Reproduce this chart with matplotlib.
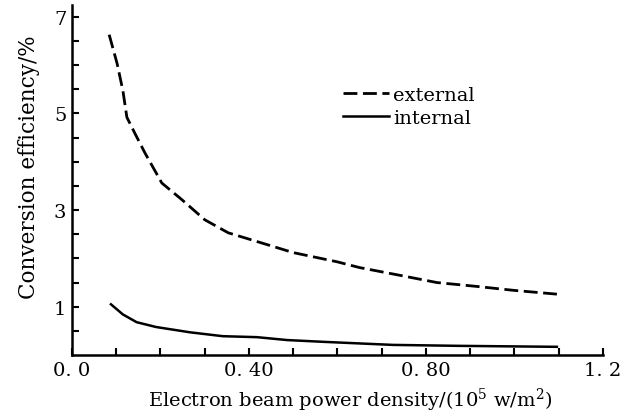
import numpy as np
import matplotlib
matplotlib.use("Agg")
import matplotlib.pyplot as plt

# values
ext_x = [0.084, 0.102, 0.115, 0.124, 0.142, 0.165, 0.203, 0.249, 0.30, 0.353,
         0.425, 0.50, 0.599, 0.65, 0.741, 0.825, 0.915, 0.997, 1.096]
ext_y = [6.63, 6.03, 5.47, 4.92, 4.59, 4.18, 3.56, 3.21, 2.80, 2.53,
         2.33, 2.12, 1.93, 1.81, 1.65, 1.50, 1.42, 1.34, 1.26]

int_x = [0.088, 0.115, 0.146, 0.19, 0.267, 0.341, 0.418, 0.486, 0.576,
         0.725, 0.877, 1.096]
int_y = [1.05, 0.84, 0.68, 0.58, 0.47, 0.39, 0.37, 0.31, 0.27,
         0.21, 0.19, 0.17]

xticks = [0.0, 0.1, 0.2, 0.3, 0.4, 0.5, 0.6, 0.7, 0.8, 0.9, 1.0, 1.1, 1.2]
xticklabels = ["0. 0", "", "", "", "0. 40", "", "", "", "0. 80", "", "", "", "1. 2"]
yticks = [0.5, 1, 1.5, 2, 2.5, 3, 3.5, 4, 4.5, 5, 5.5, 6, 6.5, 7]
yticklabels = ["", "1", "", "", "", "3", "", "", "", "5", "", "", "", "7"]

plt.rcParams["font.family"] = ["DejaVu Serif"]
plt.rcParams["mathtext.fontset"] = "dejavuserif"

fig = plt.figure(figsize=(6.29, 4.14), dpi=100)
ax = fig.add_axes([0.1145, 0.14, 0.844, 0.845])

ax.plot(ext_x, ext_y, color="black", lw=2.0, dashes=(5, 2), label="external")
ax.plot(int_x, int_y, color="black", lw=1.8, label="internal")

ax.set_xlim(0, 1.2)
ax.set_ylim(0, 7.24)
ax.set_xticks(xticks)
ax.set_xticklabels(xticklabels, fontsize=14)
ax.set_yticks(yticks)
ax.set_yticklabels(yticklabels, fontsize=14)
ax.tick_params(direction="in", length=5, width=1.5, pad=4)

for s in ["top", "right"]:
    ax.spines[s].set_visible(False)
for s in ["left", "bottom"]:
    ax.spines[s].set_linewidth(1.8)

ax.set_xlabel("Electron beam power density/(10$^5$ w/m$^2$)", fontsize=14)
ax.xaxis.set_label_coords(0.524, -0.088)
ax.set_ylabel("Conversion efficiency/%", fontsize=15.5)
ax.yaxis.set_label_coords(-0.06, 0.54)

ax.legend(loc="upper left", bbox_to_anchor=(0.477, 0.82), frameon=False,
          fontsize=14, handlelength=2.4, handletextpad=0.2, labelspacing=0.25)

fig.savefig("out.png", dpi=100)
